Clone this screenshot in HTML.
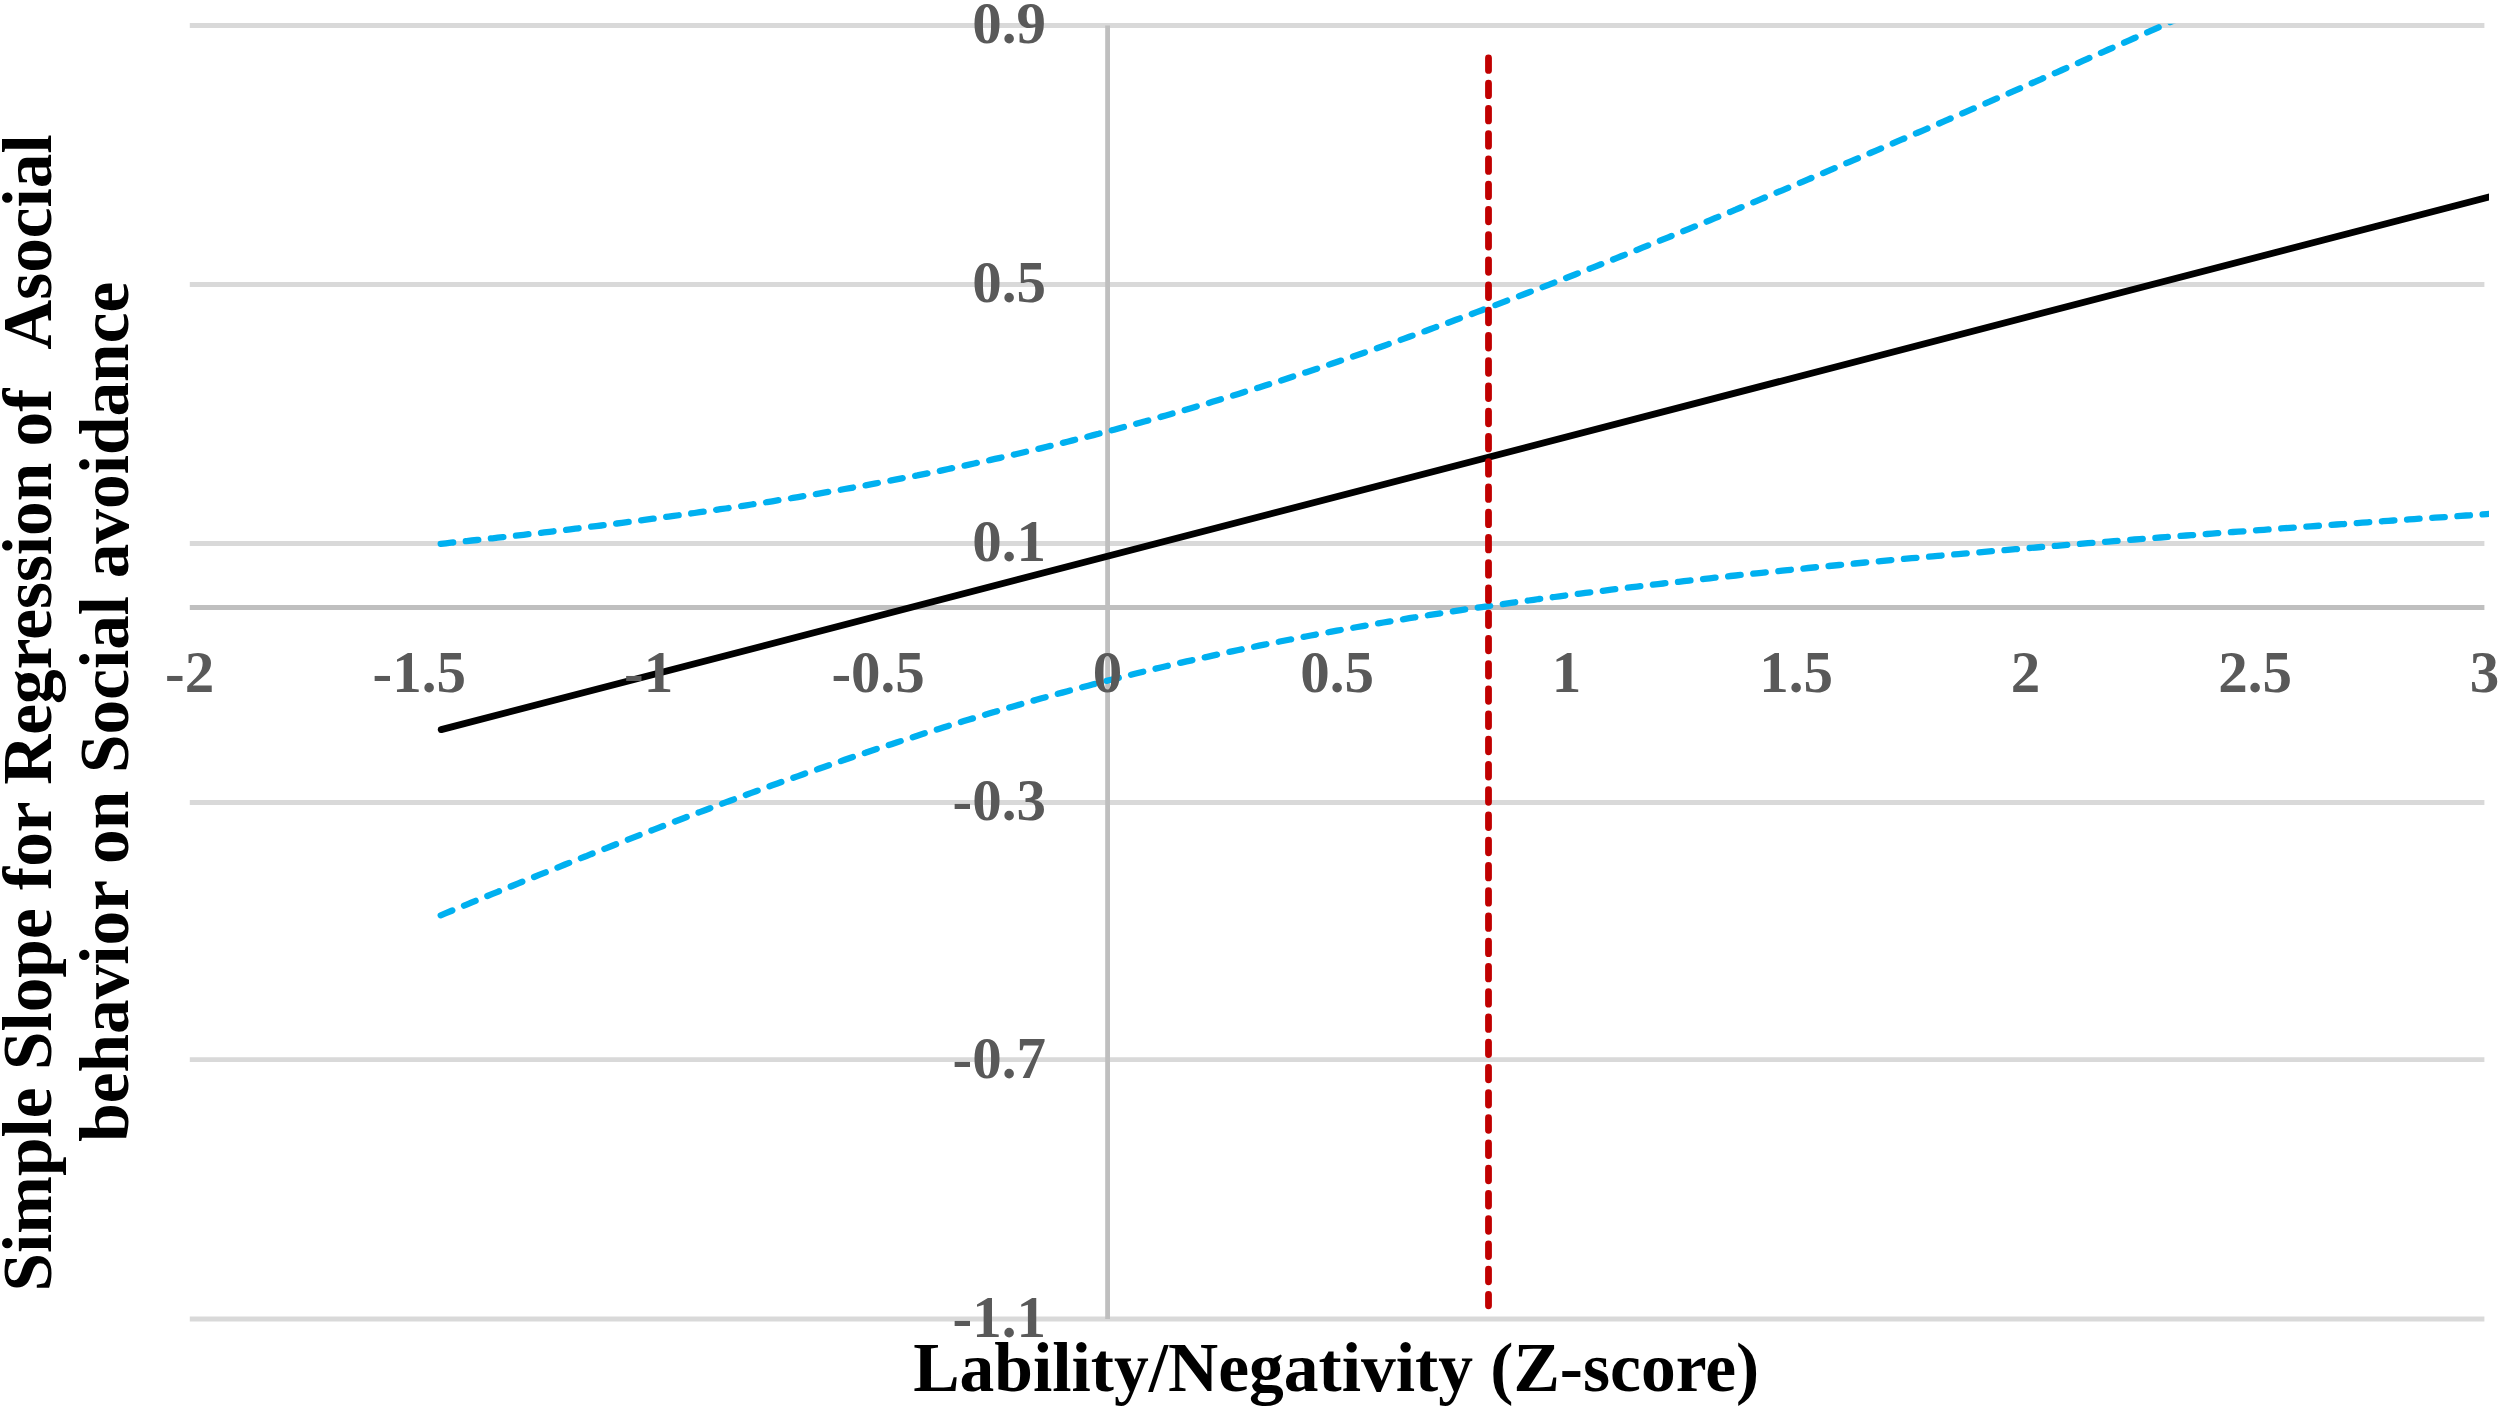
<!DOCTYPE html>
<html><head><meta charset="utf-8"><title>Simple slope plot</title>
<style>
html,body{margin:0;padding:0;background:#fff;}
body{width:2500px;height:1410px;overflow:hidden;}
svg{display:block;}
text{font-family:"Liberation Serif",serif;font-weight:bold;}
.tick text{font-size:59px;fill:#595959;}
.title{font-size:69.5px;fill:#000;}
</style></head><body>
<svg width="2500" height="1410" viewBox="0 0 2500 1410">
<defs><clipPath id="plot"><rect x="185" y="23.7" width="2304" height="1297.3"/></clipPath></defs>
<rect width="2500" height="1410" fill="#fff"/>
<g stroke="#D9D9D9" stroke-width="4.8" fill="none">
<line x1="189.8" x2="2484.4" y1="25.5" y2="25.5"/>
<line x1="189.8" x2="2484.4" y1="284.5" y2="284.5"/>
<line x1="189.8" x2="2484.4" y1="543.5" y2="543.5"/>
<line x1="189.8" x2="2484.4" y1="802.5" y2="802.5"/>
<line x1="189.8" x2="2484.4" y1="1059.6" y2="1059.6"/>
<line x1="189.8" x2="2484.4" y1="1319.0" y2="1319.0"/>
</g>
<g stroke="#BFBFBF" stroke-width="4.8" fill="none">
<line x1="189.8" x2="2484.4" y1="607.5" y2="607.5"/>
<line x1="1107.6" x2="1107.6" y1="25.5" y2="1319"/>
</g>
<g clip-path="url(#plot)" fill="none" stroke-linecap="round" stroke-linejoin="round">
<path d="M440.7,543.8 L445.9,543.3 L451.1,542.7 L456.3,542.2 L461.4,541.6 L466.6,541.1 L471.8,540.5 L477.0,540.0 L482.2,539.4 L487.3,538.8 L492.5,538.3 L497.7,537.7 L502.9,537.1 L508.1,536.5 L513.2,535.9 L518.4,535.4 L523.6,534.8 L528.8,534.2 L534.0,533.6 L539.1,533.0 L544.3,532.4 L549.5,531.8 L554.7,531.1 L559.9,530.5 L565.0,529.9 L570.2,529.3 L575.4,528.7 L580.6,528.0 L585.8,527.4 L590.9,526.7 L596.1,526.1 L601.3,525.5 L606.5,524.8 L611.7,524.1 L616.8,523.5 L622.0,522.8 L627.2,522.1 L632.4,521.5 L637.6,520.8 L642.7,520.1 L647.9,519.4 L653.1,518.7 L658.3,518.0 L663.5,517.3 L668.6,516.6 L673.8,515.9 L679.0,515.2 L684.2,514.4 L689.4,513.7 L694.5,513.0 L699.7,512.2 L704.9,511.5 L710.1,510.7 L715.3,510.0 L720.4,509.2 L725.6,508.5 L730.8,507.7 L736.0,506.9 L741.2,506.1 L746.3,505.3 L751.5,504.5 L756.7,503.7 L761.9,502.9 L767.1,502.1 L772.2,501.3 L777.4,500.4 L782.6,499.6 L787.8,498.8 L793.0,497.9 L798.1,497.1 L803.3,496.2 L808.5,495.3 L813.7,494.5 L818.8,493.6 L824.0,492.7 L829.2,491.8 L834.4,490.9 L839.6,490.0 L844.7,489.0 L849.9,488.1 L855.1,487.2 L860.3,486.2 L865.5,485.3 L870.6,484.3 L875.8,483.4 L881.0,482.4 L886.2,481.4 L891.4,480.4 L896.5,479.4 L901.7,478.4 L906.9,477.4 L912.1,476.4 L917.3,475.4 L922.4,474.3 L927.6,473.3 L932.8,472.2 L938.0,471.2 L943.2,470.1 L948.3,469.0 L953.5,467.9 L958.7,466.8 L963.9,465.7 L969.1,464.6 L974.2,463.5 L979.4,462.4 L984.6,461.2 L989.8,460.1 L995.0,458.9 L1000.1,457.8 L1005.3,456.6 L1010.5,455.4 L1015.7,454.2 L1020.9,453.0 L1026.0,451.8 L1031.2,450.6 L1036.4,449.3 L1041.6,448.1 L1046.8,446.8 L1051.9,445.6 L1057.1,444.3 L1062.3,443.0 L1067.5,441.7 L1072.7,440.4 L1077.8,439.1 L1083.0,437.8 L1088.2,436.5 L1093.4,435.1 L1098.6,433.8 L1103.7,432.4 L1108.9,431.1 L1114.1,429.7 L1119.3,428.3 L1124.5,426.9 L1129.6,425.5 L1134.8,424.1 L1140.0,422.7 L1145.2,421.3 L1150.3,419.8 L1155.5,418.4 L1160.7,416.9 L1165.9,415.5 L1171.1,414.0 L1176.2,412.5 L1181.4,411.0 L1186.6,409.5 L1191.8,408.0 L1197.0,406.4 L1202.1,404.9 L1207.3,403.4 L1212.5,401.8 L1217.7,400.3 L1222.9,398.7 L1228.0,397.1 L1233.2,395.5 L1238.4,393.9 L1243.6,392.3 L1248.8,390.7 L1253.9,389.1 L1259.1,387.5 L1264.3,385.8 L1269.5,384.2 L1274.7,382.5 L1279.8,380.9 L1285.0,379.2 L1290.2,377.5 L1295.4,375.8 L1300.6,374.1 L1305.7,372.4 L1310.9,370.7 L1316.1,369.0 L1321.3,367.3 L1326.5,365.5 L1331.6,363.8 L1336.8,362.0 L1342.0,360.3 L1347.2,358.5 L1352.4,356.7 L1357.5,355.0 L1362.7,353.2 L1367.9,351.4 L1373.1,349.6 L1378.3,347.8 L1383.4,346.0 L1388.6,344.1 L1393.8,342.3 L1399.0,340.5 L1404.2,338.6 L1409.3,336.8 L1414.5,334.9 L1419.7,333.0 L1424.9,331.2 L1430.1,329.3 L1435.2,327.4 L1440.4,325.5 L1445.6,323.6 L1450.8,321.7 L1456.0,319.8 L1461.1,317.9 L1466.3,316.0 L1471.5,314.1 L1476.7,312.1 L1481.8,310.2 L1487.0,308.3 L1492.2,306.3 L1497.4,304.4 L1502.6,302.4 L1507.7,300.4 L1512.9,298.5 L1518.1,296.5 L1523.3,294.5 L1528.5,292.5 L1533.6,290.6 L1538.8,288.6 L1544.0,286.6 L1549.2,284.6 L1554.4,282.5 L1559.5,280.5 L1564.7,278.5 L1569.9,276.5 L1575.1,274.5 L1580.3,272.4 L1585.4,270.4 L1590.6,268.4 L1595.8,266.3 L1601.0,264.3 L1606.2,262.2 L1611.3,260.2 L1616.5,258.1 L1621.7,256.0 L1626.9,254.0 L1632.1,251.9 L1637.2,249.8 L1642.4,247.7 L1647.6,245.6 L1652.8,243.6 L1658.0,241.5 L1663.1,239.4 L1668.3,237.3 L1673.5,235.2 L1678.7,233.1 L1683.9,230.9 L1689.0,228.8 L1694.2,226.7 L1699.4,224.6 L1704.6,222.5 L1709.8,220.3 L1714.9,218.2 L1720.1,216.1 L1725.3,213.9 L1730.5,211.8 L1735.7,209.7 L1740.8,207.5 L1746.0,205.4 L1751.2,203.2 L1756.4,201.1 L1761.6,198.9 L1766.7,196.7 L1771.9,194.6 L1777.1,192.4 L1782.3,190.3 L1787.5,188.1 L1792.6,185.9 L1797.8,183.7 L1803.0,181.6 L1808.2,179.4 L1813.3,177.2 L1818.5,175.0 L1823.7,172.8 L1828.9,170.6 L1834.1,168.4 L1839.2,166.2 L1844.4,164.0 L1849.6,161.8 L1854.8,159.6 L1860.0,157.4 L1865.1,155.2 L1870.3,153.0 L1875.5,150.8 L1880.7,148.6 L1885.9,146.4 L1891.0,144.2 L1896.2,141.9 L1901.4,139.7 L1906.6,137.5 L1911.8,135.3 L1916.9,133.0 L1922.1,130.8 L1927.3,128.6 L1932.5,126.4 L1937.7,124.1 L1942.8,121.9 L1948.0,119.6 L1953.2,117.4 L1958.4,115.2 L1963.6,112.9 L1968.7,110.7 L1973.9,108.4 L1979.1,106.2 L1984.3,103.9 L1989.5,101.7 L1994.6,99.4 L1999.8,97.2 L2005.0,94.9 L2010.2,92.7 L2015.4,90.4 L2020.5,88.1 L2025.7,85.9 L2030.9,83.6 L2036.1,81.3 L2041.3,79.1 L2046.4,76.8 L2051.6,74.5 L2056.8,72.3 L2062.0,70.0 L2067.2,67.7 L2072.3,65.4 L2077.5,63.2 L2082.7,60.9 L2087.9,58.6 L2093.1,56.3 L2098.2,54.0 L2103.4,51.8 L2108.6,49.5 L2113.8,47.2 L2119.0,44.9 L2124.1,42.6 L2129.3,40.3 L2134.5,38.0 L2139.7,35.7 L2144.8,33.4 L2150.0,31.2 L2155.2,28.9 L2160.4,26.6 L2165.6,24.3 L2170.7,22.0 L2175.9,19.7 L2181.1,17.4 L2186.3,15.1 L2191.5,12.8 L2196.6,10.5 L2201.8,8.2 L2207.0,5.8 L2212.2,3.5 L2217.4,1.2 L2222.5,-1.1 L2227.7,-3.4 L2232.9,-5.7 L2238.1,-8.0 L2243.3,-10.3 L2248.4,-12.6 L2253.6,-14.9 L2258.8,-17.3 L2264.0,-19.6 L2269.2,-21.9 L2274.3,-24.2 L2279.5,-26.5 L2284.7,-28.9 L2289.9,-31.2 L2295.1,-33.5 L2300.2,-35.8 L2305.4,-38.1 L2310.6,-40.5 L2315.8,-42.8 L2321.0,-45.1 L2326.1,-47.4 L2331.3,-49.8 L2336.5,-52.1 L2341.7,-54.4 L2346.9,-56.8 L2352.0,-59.1 L2357.2,-61.4 L2362.4,-63.7 L2367.6,-66.1 L2372.8,-68.4 L2377.9,-70.7 L2383.1,-73.1 L2388.3,-75.4 L2393.5,-77.7 L2398.7,-80.1 L2403.8,-82.4 L2409.0,-84.8 L2414.2,-87.1 L2419.4,-89.4 L2424.6,-91.8 L2429.7,-94.1 L2434.9,-96.5 L2440.1,-98.8 L2445.3,-101.1 L2450.5,-103.5 L2455.6,-105.8 L2460.8,-108.2 L2466.0,-110.5 L2471.2,-112.9 L2476.3,-115.2 L2481.5,-117.6 L2486.7,-119.9 L2491.9,-122.2 L2497.1,-124.6 L2502.2,-126.9 L2507.4,-129.3" stroke="#00B0F0" stroke-width="6.3" stroke-dasharray="12.55 12.685"/>
<path d="M440.7,915.3 L445.9,913.2 L451.1,911.0 L456.3,908.9 L461.4,906.7 L466.6,904.6 L471.8,902.4 L477.0,900.3 L482.2,898.2 L487.3,896.0 L492.5,893.9 L497.7,891.8 L502.9,889.7 L508.1,887.6 L513.2,885.5 L518.4,883.3 L523.6,881.2 L528.8,879.1 L534.0,877.0 L539.1,874.9 L544.3,872.9 L549.5,870.8 L554.7,868.7 L559.9,866.6 L565.0,864.5 L570.2,862.5 L575.4,860.4 L580.6,858.3 L585.8,856.3 L590.9,854.2 L596.1,852.2 L601.3,850.1 L606.5,848.1 L611.7,846.0 L616.8,844.0 L622.0,842.0 L627.2,839.9 L632.4,837.9 L637.6,835.9 L642.7,833.9 L647.9,831.9 L653.1,829.9 L658.3,827.9 L663.5,825.9 L668.6,823.9 L673.8,821.9 L679.0,820.0 L684.2,818.0 L689.4,816.0 L694.5,814.1 L699.7,812.1 L704.9,810.2 L710.1,808.2 L715.3,806.3 L720.4,804.3 L725.6,802.4 L730.8,800.5 L736.0,798.6 L741.2,796.7 L746.3,794.8 L751.5,792.9 L756.7,791.0 L761.9,789.1 L767.1,787.2 L772.2,785.3 L777.4,783.5 L782.6,781.6 L787.8,779.7 L793.0,777.9 L798.1,776.1 L803.3,774.2 L808.5,772.4 L813.7,770.6 L818.8,768.8 L824.0,767.0 L829.2,765.2 L834.4,763.4 L839.6,761.6 L844.7,759.8 L849.9,758.0 L855.1,756.3 L860.3,754.5 L865.5,752.8 L870.6,751.0 L875.8,749.3 L881.0,747.6 L886.2,745.9 L891.4,744.2 L896.5,742.5 L901.7,740.8 L906.9,739.1 L912.1,737.4 L917.3,735.7 L922.4,734.1 L927.6,732.4 L932.8,730.8 L938.0,729.2 L943.2,727.5 L948.3,725.9 L953.5,724.3 L958.7,722.7 L963.9,721.1 L969.1,719.5 L974.2,718.0 L979.4,716.4 L984.6,714.8 L989.8,713.3 L995.0,711.8 L1000.1,710.2 L1005.3,708.7 L1010.5,707.2 L1015.7,705.7 L1020.9,704.2 L1026.0,702.7 L1031.2,701.3 L1036.4,699.8 L1041.6,698.3 L1046.8,696.9 L1051.9,695.5 L1057.1,694.0 L1062.3,692.6 L1067.5,691.2 L1072.7,689.8 L1077.8,688.4 L1083.0,687.0 L1088.2,685.7 L1093.4,684.3 L1098.6,683.0 L1103.7,681.6 L1108.9,680.3 L1114.1,679.0 L1119.3,677.7 L1124.5,676.3 L1129.6,675.1 L1134.8,673.8 L1140.0,672.5 L1145.2,671.2 L1150.3,670.0 L1155.5,668.7 L1160.7,667.5 L1165.9,666.3 L1171.1,665.0 L1176.2,663.8 L1181.4,662.6 L1186.6,661.4 L1191.8,660.3 L1197.0,659.1 L1202.1,657.9 L1207.3,656.8 L1212.5,655.6 L1217.7,654.5 L1222.9,653.4 L1228.0,652.2 L1233.2,651.1 L1238.4,650.0 L1243.6,648.9 L1248.8,647.9 L1253.9,646.8 L1259.1,645.7 L1264.3,644.7 L1269.5,643.6 L1274.7,642.6 L1279.8,641.5 L1285.0,640.5 L1290.2,639.5 L1295.4,638.5 L1300.6,637.5 L1305.7,636.5 L1310.9,635.5 L1316.1,634.5 L1321.3,633.6 L1326.5,632.6 L1331.6,631.6 L1336.8,630.7 L1342.0,629.8 L1347.2,628.8 L1352.4,627.9 L1357.5,627.0 L1362.7,626.1 L1367.9,625.2 L1373.1,624.3 L1378.3,623.4 L1383.4,622.5 L1388.6,621.7 L1393.8,620.8 L1399.0,619.9 L1404.2,619.1 L1409.3,618.2 L1414.5,617.4 L1419.7,616.6 L1424.9,615.7 L1430.1,614.9 L1435.2,614.1 L1440.4,613.3 L1445.6,612.5 L1450.8,611.7 L1456.0,610.9 L1461.1,610.1 L1466.3,609.3 L1471.5,608.6 L1476.7,607.8 L1481.8,607.1 L1487.0,606.3 L1492.2,605.5 L1497.4,604.8 L1502.6,604.1 L1507.7,603.3 L1512.9,602.6 L1518.1,601.9 L1523.3,601.2 L1528.5,600.5 L1533.6,599.8 L1538.8,599.0 L1544.0,598.4 L1549.2,597.7 L1554.4,597.0 L1559.5,596.3 L1564.7,595.6 L1569.9,594.9 L1575.1,594.3 L1580.3,593.6 L1585.4,592.9 L1590.6,592.3 L1595.8,591.6 L1601.0,591.0 L1606.2,590.3 L1611.3,589.7 L1616.5,589.1 L1621.7,588.4 L1626.9,587.8 L1632.1,587.2 L1637.2,586.6 L1642.4,586.0 L1647.6,585.3 L1652.8,584.7 L1658.0,584.1 L1663.1,583.5 L1668.3,582.9 L1673.5,582.3 L1678.7,581.8 L1683.9,581.2 L1689.0,580.6 L1694.2,580.0 L1699.4,579.4 L1704.6,578.9 L1709.8,578.3 L1714.9,577.7 L1720.1,577.2 L1725.3,576.6 L1730.5,576.0 L1735.7,575.5 L1740.8,574.9 L1746.0,574.4 L1751.2,573.9 L1756.4,573.3 L1761.6,572.8 L1766.7,572.2 L1771.9,571.7 L1777.1,571.2 L1782.3,570.6 L1787.5,570.1 L1792.6,569.6 L1797.8,569.1 L1803.0,568.6 L1808.2,568.0 L1813.3,567.5 L1818.5,567.0 L1823.7,566.5 L1828.9,566.0 L1834.1,565.5 L1839.2,565.0 L1844.4,564.5 L1849.6,564.0 L1854.8,563.5 L1860.0,563.0 L1865.1,562.5 L1870.3,562.0 L1875.5,561.6 L1880.7,561.1 L1885.9,560.6 L1891.0,560.1 L1896.2,559.6 L1901.4,559.2 L1906.6,558.7 L1911.8,558.2 L1916.9,557.8 L1922.1,557.3 L1927.3,556.8 L1932.5,556.4 L1937.7,555.9 L1942.8,555.4 L1948.0,555.0 L1953.2,554.5 L1958.4,554.1 L1963.6,553.6 L1968.7,553.2 L1973.9,552.7 L1979.1,552.3 L1984.3,551.8 L1989.5,551.4 L1994.6,550.9 L1999.8,550.5 L2005.0,550.1 L2010.2,549.6 L2015.4,549.2 L2020.5,548.8 L2025.7,548.3 L2030.9,547.9 L2036.1,547.5 L2041.3,547.0 L2046.4,546.6 L2051.6,546.2 L2056.8,545.8 L2062.0,545.3 L2067.2,544.9 L2072.3,544.5 L2077.5,544.1 L2082.7,543.6 L2087.9,543.2 L2093.1,542.8 L2098.2,542.4 L2103.4,542.0 L2108.6,541.6 L2113.8,541.2 L2119.0,540.8 L2124.1,540.4 L2129.3,539.9 L2134.5,539.5 L2139.7,539.1 L2144.8,538.7 L2150.0,538.3 L2155.2,537.9 L2160.4,537.5 L2165.6,537.1 L2170.7,536.7 L2175.9,536.3 L2181.1,535.9 L2186.3,535.5 L2191.5,535.2 L2196.6,534.8 L2201.8,534.4 L2207.0,534.0 L2212.2,533.6 L2217.4,533.2 L2222.5,532.8 L2227.7,532.4 L2232.9,532.0 L2238.1,531.7 L2243.3,531.3 L2248.4,530.9 L2253.6,530.5 L2258.8,530.1 L2264.0,529.8 L2269.2,529.4 L2274.3,529.0 L2279.5,528.6 L2284.7,528.2 L2289.9,527.9 L2295.1,527.5 L2300.2,527.1 L2305.4,526.7 L2310.6,526.4 L2315.8,526.0 L2321.0,525.6 L2326.1,525.3 L2331.3,524.9 L2336.5,524.5 L2341.7,524.2 L2346.9,523.8 L2352.0,523.4 L2357.2,523.1 L2362.4,522.7 L2367.6,522.3 L2372.8,522.0 L2377.9,521.6 L2383.1,521.2 L2388.3,520.9 L2393.5,520.5 L2398.7,520.2 L2403.8,519.8 L2409.0,519.4 L2414.2,519.1 L2419.4,518.7 L2424.6,518.4 L2429.7,518.0 L2434.9,517.7 L2440.1,517.3 L2445.3,517.0 L2450.5,516.6 L2455.6,516.3 L2460.8,515.9 L2466.0,515.5 L2471.2,515.2 L2476.3,514.8 L2481.5,514.5 L2486.7,514.1 L2491.9,513.8 L2497.1,513.5 L2502.2,513.1 L2507.4,512.8" stroke="#00B0F0" stroke-width="6.3" stroke-dasharray="12.55 12.685"/>
<line x1="441.2" y1="729.6" x2="2500" y2="194.1" stroke="#000" stroke-width="6.8"/>
</g>
<line x1="1488.5" x2="1488.5" y1="57.9" y2="1305.8" stroke="#C00000" stroke-width="6.8" stroke-dasharray="12.55 12.685" stroke-linecap="round"/>
<g class="tick">
<text x="1046" y="43.2" text-anchor="end">0.9</text>
<text x="1046" y="302.1" text-anchor="end">0.5</text>
<text x="1046" y="561.2" text-anchor="end">0.1</text>
<text x="1046" y="819.6" text-anchor="end">-0.3</text>
<text x="1046" y="1077.8" text-anchor="end">-0.7</text>
<text x="1046" y="1336.5" text-anchor="end">-1.1</text>
<text x="189.7" y="692.3" text-anchor="middle">-2</text>
<text x="419.2" y="692.3" text-anchor="middle">-1.5</text>
<text x="648.6" y="692.3" text-anchor="middle">-1</text>
<text x="878.1" y="692.3" text-anchor="middle">-0.5</text>
<text x="1107.6" y="692.3" text-anchor="middle">0</text>
<text x="1337.1" y="692.3" text-anchor="middle">0.5</text>
<text x="1566.6" y="692.3" text-anchor="middle">1</text>
<text x="1796.0" y="692.3" text-anchor="middle">1.5</text>
<text x="2025.5" y="692.3" text-anchor="middle">2</text>
<text x="2255.0" y="692.3" text-anchor="middle">2.5</text>
<text x="2484.5" y="692.3" text-anchor="middle">3</text>
</g>
<text class="title" x="1336.2" y="1391" text-anchor="middle">Lability/Negativity (Z-score)</text>
<text class="title" style="font-size:69.3px" text-anchor="start" transform="translate(51.0,0) rotate(-90)"><tspan x="-1291.6" y="0">Simple</tspan> <tspan x="-1070.1" y="0">Slope</tspan> <tspan x="-889.9" y="0">for</tspan> <tspan x="-784.8" y="0">Regression</tspan> <tspan x="-446.4" y="0">of</tspan> <tspan x="-349.8" y="0">Asocial</tspan></text>
<text class="title" style="font-size:69.3px" text-anchor="start" transform="translate(127.9,0) rotate(-90)"><tspan x="-1141.8" y="0">behavior</tspan> <tspan x="-863.9" y="0">on</tspan> <tspan x="-773.0" y="0">Social</tspan> <tspan x="-578.3" y="0">avoidance</tspan></text>
</svg>
</body></html>
